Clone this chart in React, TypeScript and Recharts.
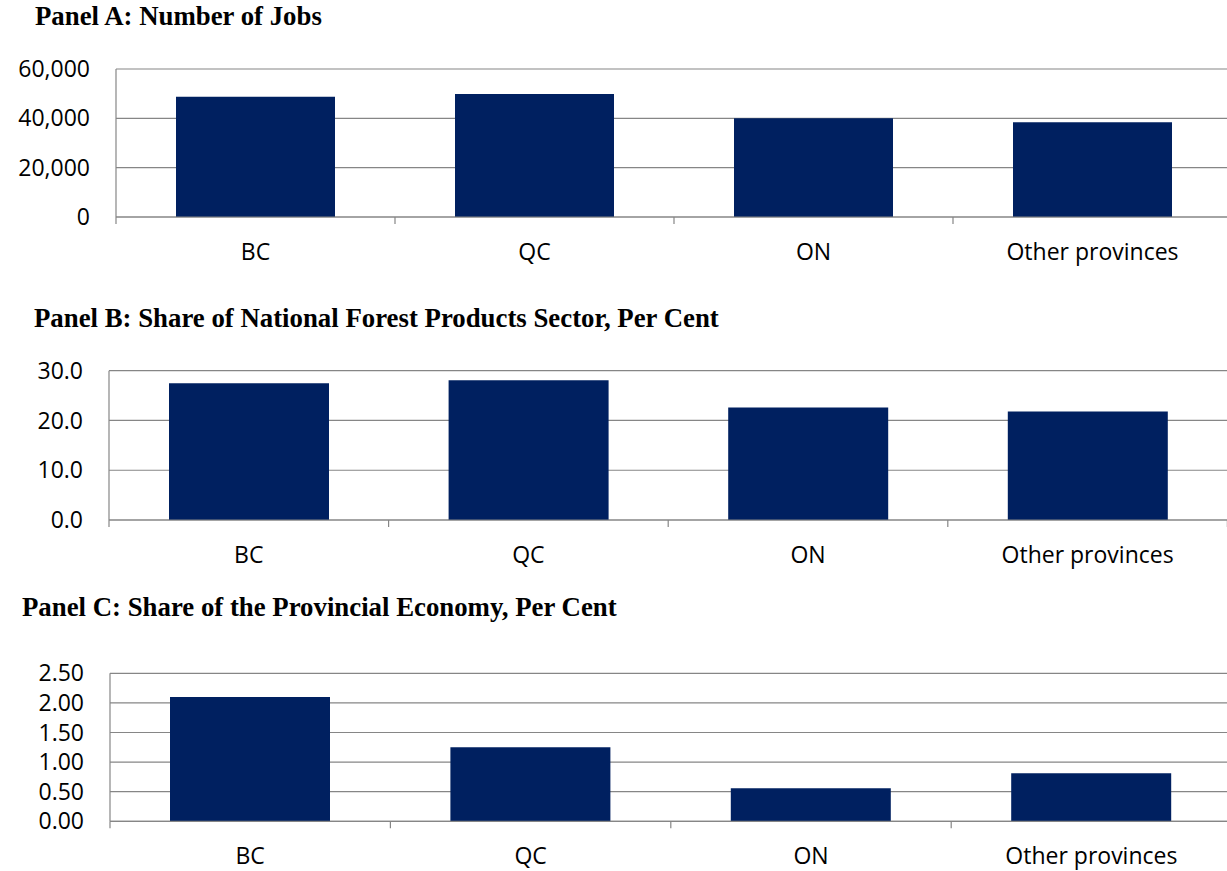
import React from "react";
import { BarChart, Bar, XAxis, YAxis, CartesianGrid } from "recharts";

const categories = ["BC", "QC", "ON", "Other provinces"];
const jobsValues = [48800, 49900, 40000, 38400];
const nationalShareValues = [27.5, 28.1, 22.6, 21.8];
const provincialShareValues = [2.1, 1.25, 0.56, 0.81];

const jobsTicks = [0, 20000, 40000, 60000];
const nationalTicks = [0, 10, 20, 30];
const provincialTicks = [0, 0.5, 1, 1.5, 2, 2.5];

const titles = [
  "Panel A: Number of Jobs",
  "Panel B: Share of National Forest Products Sector, Per Cent",
  "Panel C: Share of the Provincial Economy, Per Cent",
];

const BAR = "#002060";
const GRID = "#868686";
const TICK_FONT = "'Open Sans', sans-serif";

const build = (vals: number[]) => categories.map((c, i) => ({ name: c, value: vals[i] }));

function makeTick(band: number, labelOffset: number) {
  return (props: any) => {
    const { x, y, payload, index, visibleTicksCount } = props;
    const left = x - band / 2;
    const right = x + band / 2;
    return (
      <g>
        <line x1={left} x2={left} y1={y} y2={y + 7} stroke={GRID} strokeWidth={1.2} />
        {index === visibleTicksCount - 1 && (
          <line x1={right} x2={right} y1={y} y2={y + 7} stroke={GRID} strokeWidth={1.2} />
        )}
        <text
          x={x}
          y={y + labelOffset}
          dy="0.355em"
          textAnchor="middle"
          fill="#000"
          fontSize={23}
          fontFamily={TICK_FONT}
        >
          {payload.value}
        </text>
      </g>
    );
  };
}

type PanelProps = {
  top: number;
  height: number;
  marginTop: number;
  axisX: number;
  plotRight: number;
  xAxisHeight: number;
  data: { name: string; value: number }[];
  ticks: number[];
  fmt: (v: number) => string;
  barSize: number;
};

function Panel(p: PanelProps) {
  const W = 1240;
  const band = (p.plotRight - p.axisX) / categories.length;
  return (
    <div style={{ position: "absolute", left: 0, top: p.top }}>
      <BarChart
        width={W}
        height={p.height}
        data={p.data}
        margin={{ top: p.marginTop, left: 0, right: W - p.plotRight, bottom: 0 }}
      >
        <CartesianGrid vertical={false} stroke={GRID} strokeWidth={1.2} />
        <XAxis
          dataKey="name"
          height={p.xAxisHeight}
          axisLine={{ stroke: GRID, strokeWidth: 1.2 }}
          tickLine={false}
          tickSize={0}
          tickMargin={0}
          interval={0}
          tick={makeTick(band, 35)}
        />
        <YAxis
          width={p.axisX}
          domain={[p.ticks[0], p.ticks[p.ticks.length - 1]]}
          ticks={p.ticks}
          interval={0}
          axisLine={{ stroke: GRID, strokeWidth: 1.2 }}
          tickLine={false}
          tickSize={0}
          tickMargin={26}
          tickFormatter={p.fmt}
          tick={{ fill: "#000", fontSize: 23, fontFamily: TICK_FONT }}
        />
        <Bar dataKey="value" fill={BAR} barSize={p.barSize} isAnimationActive={false} />
      </BarChart>
    </div>
  );
}

const titleStyle = (left: number, top: number): React.CSSProperties => ({
  position: "absolute",
  left,
  top,
  fontFamily: "'Liberation Serif', 'Times New Roman', serif",
  fontWeight: "bold",
  fontSize: 26.8,
  lineHeight: "26.8px",
  whiteSpace: "nowrap",
  color: "#000",
});

export default function App() {
  return (
    <div
      style={{
        position: "absolute",
        left: 0,
        top: 0,
        width: 1227,
        height: 871,
        overflow: "hidden",
        background: "#fff",
      }}
    >
      <div style={titleStyle(35, 3)}>{titles[0]}</div>
      <div style={titleStyle(34, 305)}>{titles[1]}</div>
      <div style={titleStyle(22, 594)}>{titles[2]}</div>

      <Panel
        top={0}
        height={270}
        marginTop={69}
        axisX={116}
        plotRight={1232}
        xAxisHeight={53}
        data={build(jobsValues)}
        ticks={jobsTicks}
        fmt={(v) => v.toLocaleString("en-US")}
        barSize={159}
      />
      <Panel
        top={300}
        height={280}
        marginTop={70.7}
        axisX={109}
        plotRight={1227.4}
        xAxisHeight={60}
        data={build(nationalShareValues)}
        ticks={nationalTicks}
        fmt={(v) => v.toFixed(1)}
        barSize={160}
      />
      <Panel
        top={600}
        height={271}
        marginTop={73.3}
        axisX={110}
        plotRight={1231.6}
        xAxisHeight={49.7}
        data={build(provincialShareValues)}
        ticks={provincialTicks}
        fmt={(v) => v.toFixed(2)}
        barSize={160}
      />
    </div>
  );
}
